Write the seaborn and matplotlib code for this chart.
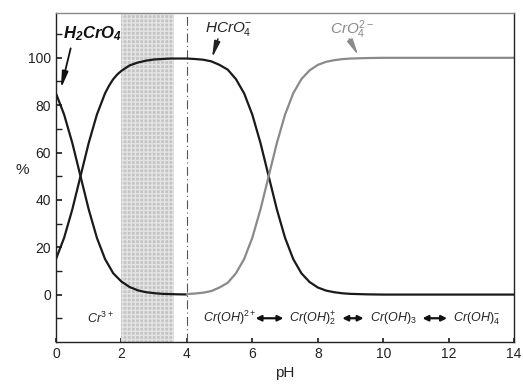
import numpy as np
import pandas as pd
import seaborn as sns
import matplotlib
matplotlib.use("Agg")
import matplotlib.pyplot as plt

# values (percent of Cr(VI) species vs pH)
ph_h2 = [0, 0.25, 0.5, 0.75, 1.0, 1.25, 1.5, 1.75, 2.0, 2.25, 2.5, 2.75, 3.0, 3.25, 3.5, 3.75, 4.0]
h2cro4 = [85, 76, 64, 50, 36, 24, 15, 9, 5.5, 3.2, 1.8, 1.0, 0.6, 0.3, 0.2, 0.1, 0.05]

ph_h = [0, 0.25, 0.5, 0.75, 1.0, 1.25, 1.5, 1.625, 1.75, 1.875, 2.0, 2.25, 2.5, 2.75, 3.0,
        3.5, 4.0, 4.25, 4.5, 4.75, 5.0, 5.25, 5.5, 5.75, 6.0, 6.25, 6.5, 6.75, 7.0, 7.25,
        7.5, 7.75, 8.0, 8.25, 8.5, 8.75, 9.0, 9.5, 10, 12, 14]
hcro4 = [15, 24, 36, 50, 64, 76, 85, 88.3, 91, 93, 94.5, 96.8, 98, 98.8, 99.3,
         99.7, 99.7, 99.5, 99.2, 98.5, 97, 95, 91, 85, 76, 64, 50, 36, 24, 15,
         9, 5.3, 3, 1.7, 1, 0.55, 0.3, 0.1, 0, 0, 0]

ph_c = [4.0, 4.25, 4.5, 4.75, 5.0, 5.25, 5.5, 5.75, 6.0, 6.25, 6.5, 6.75, 7.0, 7.25, 7.5,
        7.75, 8.0, 8.25, 8.5, 8.75, 9.0, 9.5, 10, 12, 14]
cro4 = [0.2, 0.45, 0.8, 1.5, 3, 5, 9, 15, 24, 36, 50, 64, 76, 85, 91,
        94.7, 97, 98.3, 99, 99.45, 99.7, 99.9, 100, 100, 100]

x_ticks = [0, 2, 4, 6, 8, 10, 12, 14]
y_ticks = [0, 20, 40, 60, 80, 100]

sns.set_theme(style="ticks")
plt.rcParams["font.family"] = ["Liberation Sans", "DejaVu Sans"]
plt.rcParams["mathtext.fontset"] = "custom"
plt.rcParams["mathtext.rm"] = "Liberation Sans"
plt.rcParams["mathtext.it"] = "Liberation Sans:italic"
plt.rcParams["mathtext.bf"] = "Liberation Sans:italic:bold"

fig = plt.figure(figsize=(5.23, 3.89), dpi=100)
ax = fig.add_axes([0.107, 0.121, 0.876, 0.846])

# Cr(III) hatched region and dashed boundary
ax.axvspan(2.0, 3.62, facecolor="#c4c4c4", edgecolor="#e4e4e4", hatch="++++", lw=0)
ax.axvline(4.0, color="#555555", lw=0.8, ls=(0, (8, 3, 1, 3)))

df_h2 = pd.DataFrame({"pH": ph_h2, "pct": h2cro4})
df_h = pd.DataFrame({"pH": ph_h, "pct": hcro4})
df_c = pd.DataFrame({"pH": ph_c, "pct": cro4})
sns.lineplot(data=df_h2, x="pH", y="pct", ax=ax, color="#1a1a1a", lw=1.6)
sns.lineplot(data=df_h, x="pH", y="pct", ax=ax, color="#1a1a1a", lw=1.6)
sns.lineplot(data=df_c, x="pH", y="pct", ax=ax, color="#8a8a8a", lw=1.6)

ax.set_xlim(0, 14)
ax.set_ylim(-20, 119)
ax.set_xticks(x_ticks)
ax.set_yticks(y_ticks)
ax.set_yticks([-10, 10, 30, 50, 70, 90, 110], minor=True)
ax.tick_params(axis="both", which="both", direction="in", labelsize=10, colors="#222222")
ax.tick_params(axis="y", which="both", length=4)
ax.tick_params(axis="x", length=3)
ax.set_xlabel("pH", fontsize=11)
ax.set_ylabel("%", fontsize=11, rotation=0, labelpad=4)
for s in ax.spines.values():
    s.set_color("#222222")
    s.set_linewidth(1.0)
ax.spines["top"].set_color("#888888")

# species labels with arrows
arrow_style = "-|>,head_length=0.8,head_width=0.15"
ax.text(0.21, 110, r"$\mathbf{H_2CrO_4}$", fontsize=12, color="#111111", va="center")
ax.annotate("", xy=(0.15, 87), xytext=(0.45, 104),
            arrowprops=dict(arrowstyle=arrow_style, color="#111111", lw=1.3, shrinkA=0, shrinkB=0))
ax.text(4.56, 112, r"$\it{HCrO_4^{-}}$", fontsize=11, color="#222222", va="center")
ax.annotate("", xy=(4.77, 100), xytext=(4.95, 108),
            arrowprops=dict(arrowstyle=arrow_style, color="#222222", lw=1.1, shrinkA=0, shrinkB=0))
ax.text(8.38, 112, r"$\it{CrO_4^{2-}}$", fontsize=11, color="#8a8a8a", va="center")
ax.annotate("", xy=(9.24, 101), xytext=(8.96, 108),
            arrowprops=dict(arrowstyle=arrow_style, color="#8a8a8a", lw=1.1, shrinkA=0, shrinkB=0))

# Cr(III) species along the bottom
ax.text(1.35, -10, r"$\it{Cr^{3+}}$", fontsize=9, ha="center", va="center", color="#222222")
cr_species = [r"$\it{Cr(OH)^{2+}}$", r"$\it{Cr(OH)_2^{+}}$", r"$\it{Cr(OH)_3}$", r"$\it{Cr(OH)_4^{-}}$"]
cr_x = [5.3, 7.85, 10.3, 12.85]
for sx, lab in zip(cr_x, cr_species):
    ax.text(sx, -10, lab, fontsize=9, ha="center", va="center", color="#222222")
arrow_x = [(6.1, 6.95), (8.75, 9.4), (11.2, 11.95)]
for x0, x1 in arrow_x:
    ax.annotate("", xy=(x1, -10), xytext=(x0, -10),
                arrowprops=dict(arrowstyle="<|-|>", color="#111111", lw=1.6,
                                mutation_scale=8, shrinkA=0, shrinkB=0))

fig.savefig("out.png", dpi=100)
